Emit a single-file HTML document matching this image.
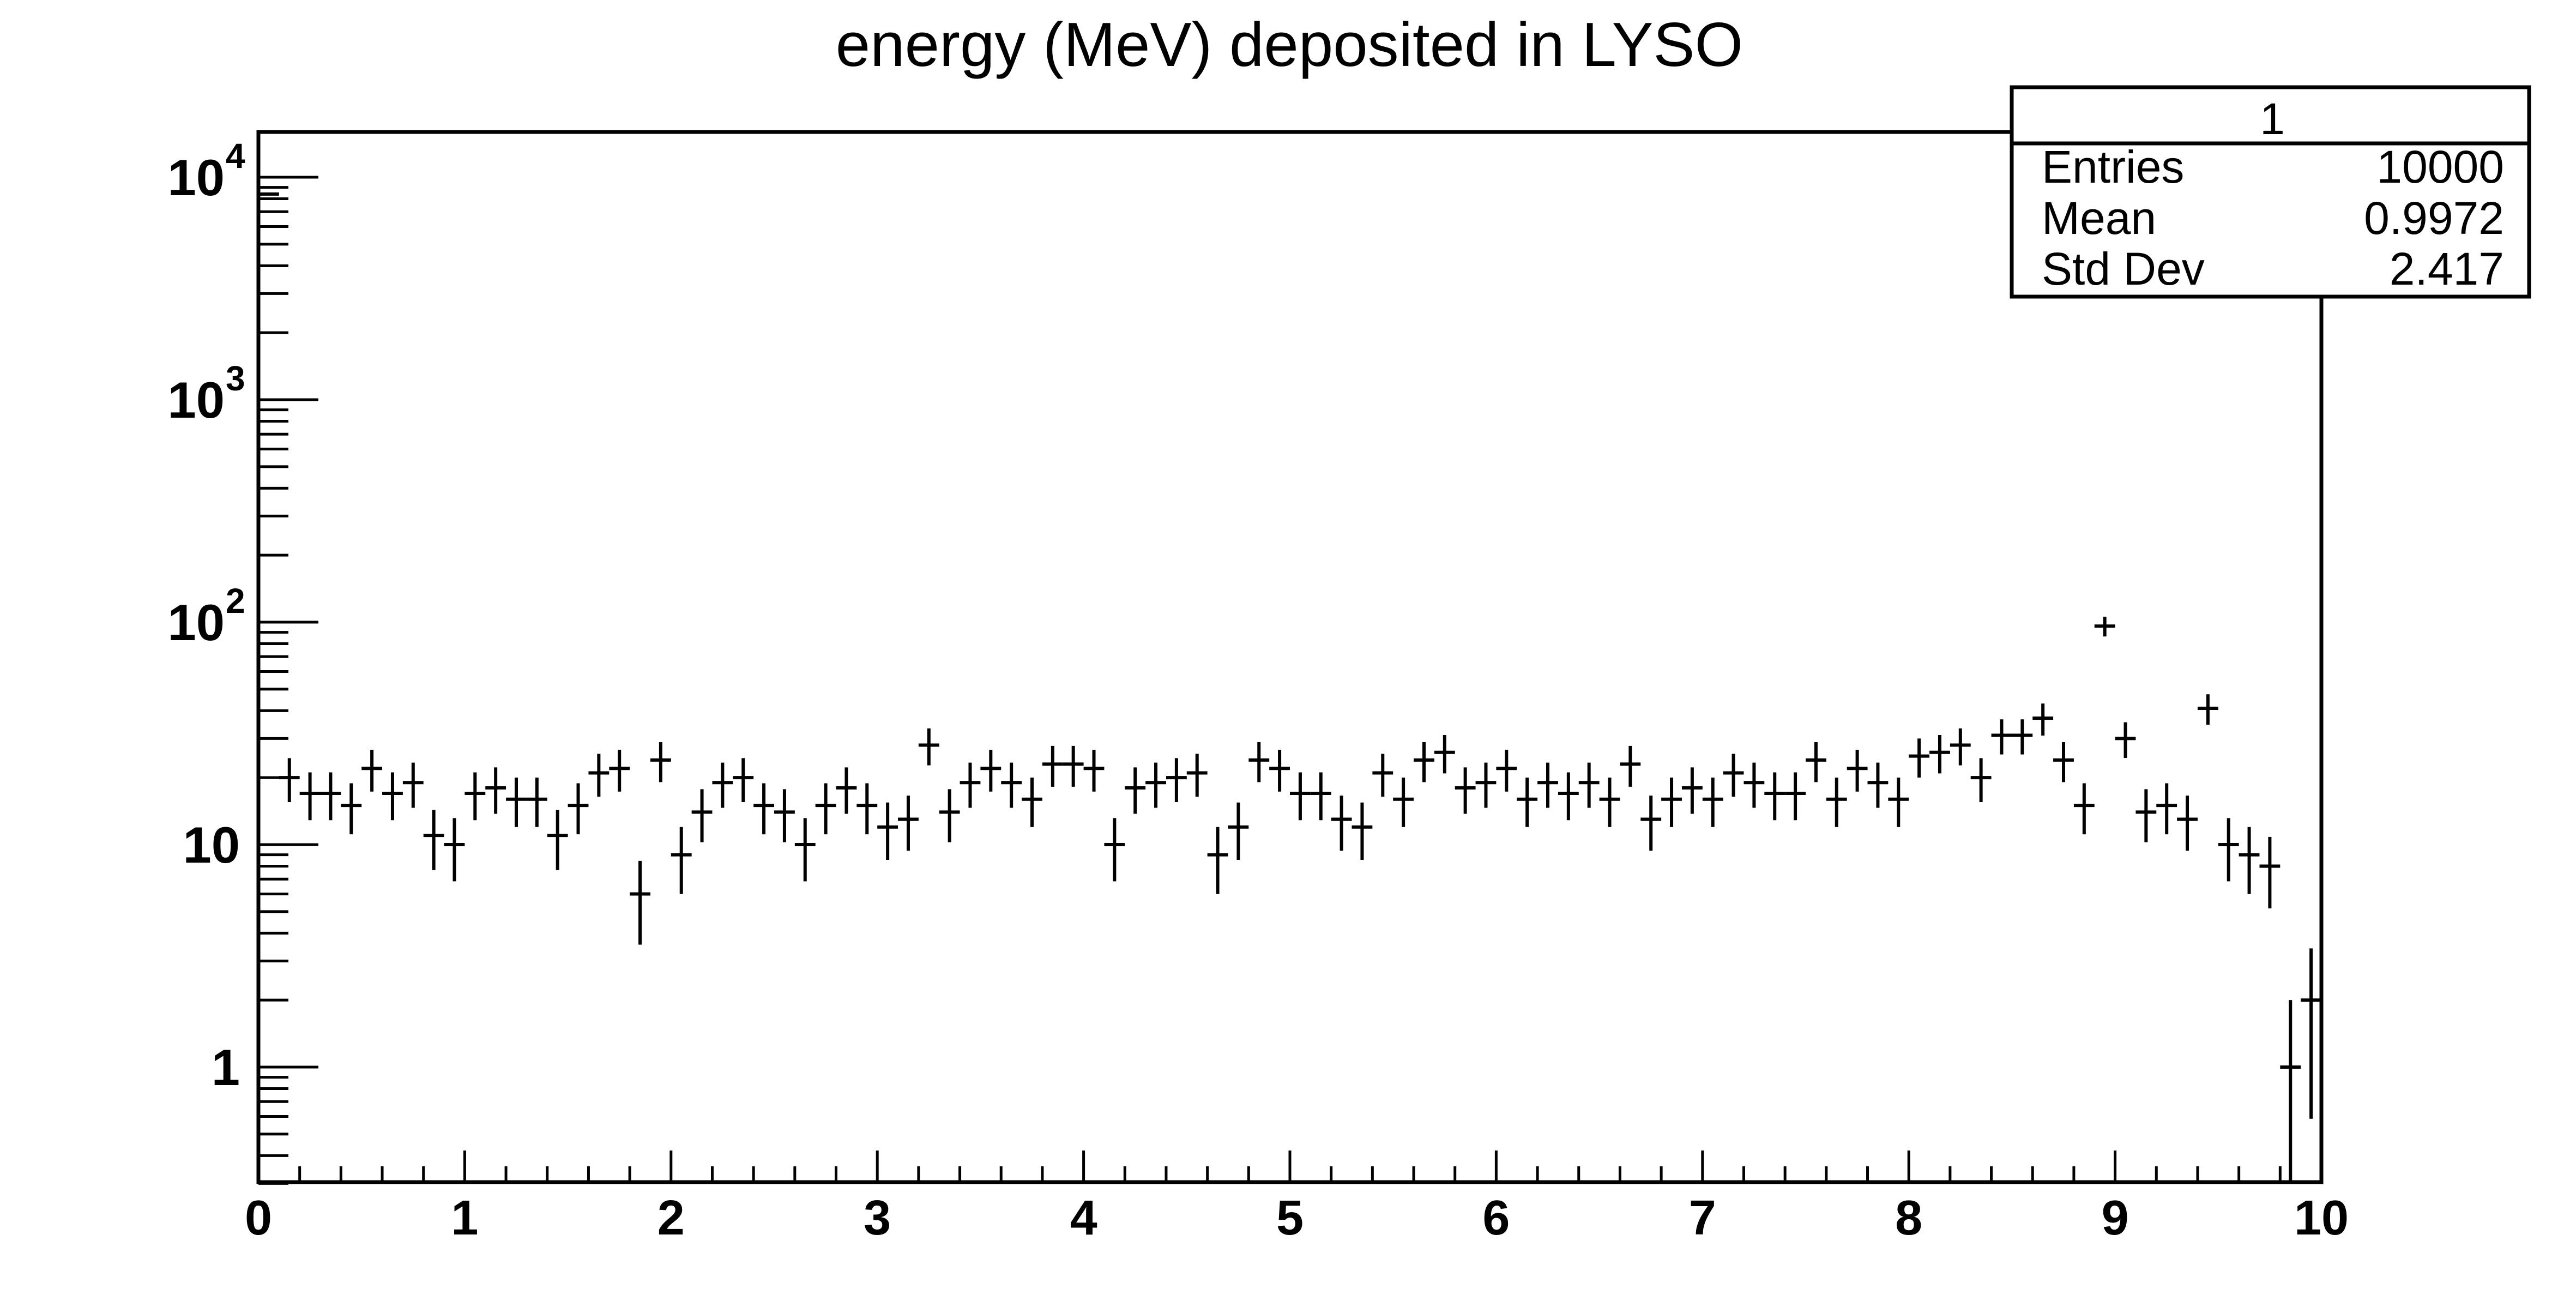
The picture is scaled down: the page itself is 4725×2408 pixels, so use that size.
<!DOCTYPE html>
<html><head><meta charset="utf-8"><style>
html,body{margin:0;padding:0;background:#fff;}
svg{display:block;font-family:"Liberation Sans",Arial,sans-serif;}
</style></head><body>
<svg id="chart" width="4725" height="2408" viewBox="0 0 4725 2408" xmlns="http://www.w3.org/2000/svg">
<rect x="0" y="0" width="4725" height="2408" fill="#fff"/>
<text x="2365" y="121" font-size="114" text-anchor="middle">energy (MeV) deposited in LYSO</text>
<g id="marks"></g>
<g id="axes"></g>
<rect x="474" y="242" width="3784" height="1926" fill="none" stroke="#000" stroke-width="7"/>
<g>
<rect x="3690" y="160" width="949" height="384" fill="#fff" stroke="#000" stroke-width="7"/>
<line x1="3690" y1="263" x2="4639" y2="263" stroke="#000" stroke-width="7"/>
<text x="4168" y="246" font-size="82" text-anchor="middle">1</text>
<text x="3745" y="335" font-size="84">Entries</text>
<text x="4593" y="335" font-size="84" text-anchor="end">10000</text>
<text x="3745" y="429" font-size="84">Mean</text>
<text x="4593" y="429" font-size="84" text-anchor="end">0.9972</text>
<text x="3745" y="522" font-size="84">Std Dev</text>
<text x="4593" y="522" font-size="84" text-anchor="end">2.417</text>
</g>
</svg>
<script>
const binCenters = [];
for (let i = 0; i < 100; i++) binCenters.push(+(0.05 + i * 0.1).toFixed(2));
const counts = [8400,20,17,17,15,22,17,19,11,10,
17,18,16,16,11,15,21,22,6,24,
9,14,19,20,15,14,10,15,18,15,
12,13,28,14,19,22,19,16,23,23,
22,10,18,19,20,21,9,12,24,22,
17,17,13,12,21,16,24,26,18,19,
22,16,19,17,19,16,23,13,16,18,
16,21,19,17,17,24,16,22,19,16,
25,26,28,20,31,31,37,24,15,96,
30,14,15,13,41,10,9,8,1,2];
const xTickLabels = ["0","1","2","3","4","5","6","7","8","9","10"];
const yDecadeLabels = [[0,"1"],[1,"10"],[2,"10","2"],[3,"10","3"],[4,"10","4"]];

const L=474,R=4258,T=242,B=2168,XMIN=0,XMAX=10,YMIN=0.3,YMAX=15800;
const NS="http://www.w3.org/2000/svg";
function xs(v){return L+(v-XMIN)/(XMAX-XMIN)*(R-L);}
const y1=1957, dec=408;
function ys(v){ if(v<=0) return B; return Math.min(B,Math.max(T,y1-Math.log10(v)*dec)); }
function mk(tag,attrs,parent){const e=document.createElementNS(NS,tag);for(const k in attrs)e.setAttribute(k,attrs[k]);parent.appendChild(e);return e;}

const marks=document.getElementById('marks');
const bw=(xs(0.1)-xs(0));
counts.forEach((c,i)=>{
  if(c<=0) return;
  const g=mk('g',{},marks);
  
  
  const cx=xs(binCenters[i]), cy=ys(c), e=Math.sqrt(c);
  mk('line',{x1:cx-bw/2,y1:cy,x2:cx+bw/2,y2:cy,stroke:'#000','stroke-width':6},g);
  mk('line',{x1:cx,y1:ys(c+e),x2:cx,y2:ys(c-e),stroke:'#000','stroke-width':6},g);
});

const axes=document.getElementById('axes');
for(let k=0;k<=50;k++){
  const v=k*0.2; const major=(k%5===0);
  const x=xs(v);
  const t=mk('line',{x1:x,y1:B,x2:x,y2:B-(major?58:29),stroke:'#000','stroke-width':5},axes);
  
  
}
xTickLabels.forEach((lab,i)=>{
  const t=mk('text',{x:xs(i),y:2264,'font-size':90,'font-weight':'bold','text-anchor':'middle'},axes);
  t.textContent=lab;
  
  
});
for(let d=-1;d<=4;d++){
  for(let m=1;m<=9;m++){
    const v=m*Math.pow(10,d);
    if(v<YMIN||v>YMAX) continue;
    const y=y1-Math.log10(v)*dec;
    const t=mk('line',{x1:L,y1:y,x2:L+(m===1?110:55),y2:y,stroke:'#000','stroke-width':5},axes);
    
    
  }
}
yDecadeLabels.forEach(([p,base,exp])=>{
  const y=y1-p*dec+33;
  const t=mk('text',{x:exp?412:440,y:y,'font-size':94,'font-weight':'bold','text-anchor':'end'},axes);
  t.textContent=base;
  
  
  if(exp){
    const s=mk('text',{x:414,y:y-50,'font-size':64,'font-weight':'bold'},axes);
    s.textContent=exp;
    
    
  }
});
</script>
</body></html>
